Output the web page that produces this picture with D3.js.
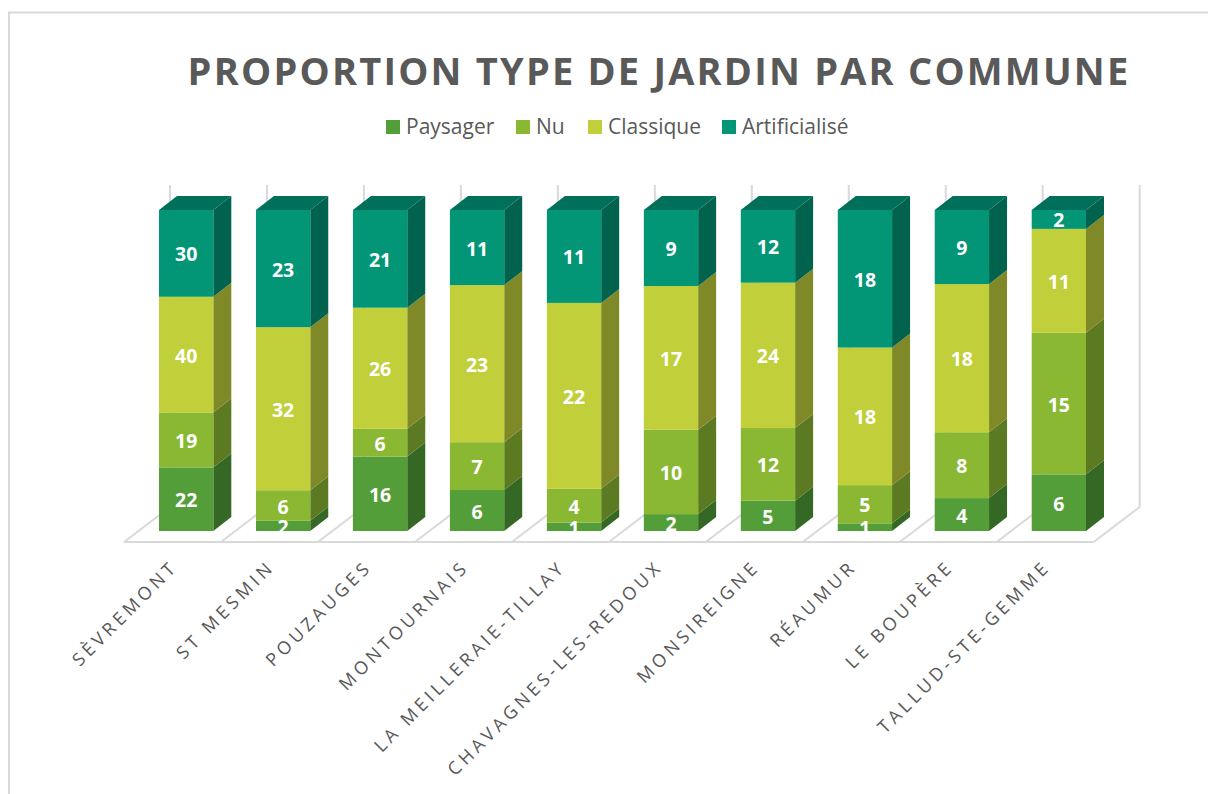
<!DOCTYPE html>
<html>
<head>
<meta charset="utf-8">
<script src="https://cdn.jsdelivr.net/npm/d3@7"></script>
<style>
body { margin: 0; background: #fff; }
text { font-family: "Open Sans", sans-serif; }
</style>
</head>
<body>
<svg id="chart" width="1208" height="794"></svg>
<script>
// chart values
var communes = ["SÈVREMONT", "ST MESMIN", "POUZAUGES", "MONTOURNAIS", "LA MEILLERAIE-TILLAY",
    "CHAVAGNES-LES-REDOUX", "MONSIREIGNE", "RÉAUMUR", "LE BOUPÈRE", "TALLUD-STE-GEMME"];
var paysager = [22, 2, 16, 6, 1, 2, 5, 1, 4, 6];
var nu = [19, 6, 6, 7, 4, 10, 12, 5, 8, 15];
var classique = [40, 32, 26, 23, 22, 17, 24, 18, 18, 11];
var artificialise = [30, 23, 21, 11, 11, 9, 12, 18, 9, 2];
var seriesNames = ["Paysager", "Nu", "Classique", "Artificialisé"];

var colors = ["#549e39", "#8ab833", "#c0cf3a", "#029676"];
var sideColors = ["#356824", "#5b7a22", "#7f8927", "#01634e"];
var topColor = "#01705a";

var svg = d3.select("#chart");

// frame of the chart object
svg.append("path")
    .attr("d", "M9,794V12.5H1208")
    .attr("fill", "none")
    .attr("stroke", "#d9d9d9")
    .attr("stroke-width", 2);

svg.append("text")
    .attr("x", 659)
    .attr("y", 85)
    .attr("text-anchor", "middle")
    .attr("font-size", 38)
    .attr("font-weight", 700)
    .attr("letter-spacing", 2.2)
    .attr("fill", "#595959")
    .text("PROPORTION TYPE DE JARDIN PAR COMMUNE");

// legend
var legendX = [386, 516, 588, 722];
var legend = svg.selectAll(".legend").data(seriesNames).enter().append("g")
    .attr("transform", function(d, i) { return "translate(" + legendX[i] + ",120)"; });
legend.append("rect")
    .attr("width", 14)
    .attr("height", 14)
    .attr("fill", function(d, i) { return colors[i]; });
legend.append("text")
    .attr("x", 20)
    .attr("y", 14)
    .attr("font-size", 21)
    .attr("fill", "#595959")
    .text(function(d) { return d; });

// scales: the front face of each bar, 100% stacked
var depthX = 18, depthY = 14;
var floorX = 46, floorY = 35;
var x = d3.scaleBand().domain(communes).range([159, 1086]).paddingInner(0.44);
var y = d3.scaleLinear().domain([0, 1]).range([531, 210]);

// back wall and floor
var grid = svg.append("g")
    .attr("fill", "none")
    .attr("stroke", "#d9d9d9")
    .attr("stroke-width", 2);
var step = x.step();
d3.range(communes.length + 1).forEach(function(i) {
    var gx = 124 + i * step;
    grid.append("path").attr("d", "M" + gx + ",542L" + (gx + floorX) + "," + (542 - floorY) + "V185");
});
grid.append("path").attr("d", "M124,542H" + (124 + communes.length * step));

var rows = communes.map(function(c, i) {
    return { commune: c, s0: paysager[i], s1: nu[i], s2: classique[i], s3: artificialise[i] };
});
var stacked = d3.stack()
    .keys(["s0", "s1", "s2", "s3"])
    .offset(d3.stackOffsetExpand)(rows);

// bars, drawn from left to right
stacked.forEach(function(layer, s) {
    var g = svg.append("g");

    // right side face
    g.selectAll(".side").data(layer).enter().append("path")
        .attr("fill", sideColors[s])
        .attr("d", function(d) {
            var r = x(d.data.commune) + x.bandwidth();
            return "M" + r + "," + y(d[0]) + "l" + depthX + "," + (-depthY) +
                "V" + (y(d[1]) - depthY) + "l" + (-depthX) + "," + depthY + "Z";
        });

    // front face
    g.selectAll(".front").data(layer).enter().append("rect")
        .attr("x", function(d) { return x(d.data.commune); })
        .attr("y", function(d) { return y(d[1]); })
        .attr("width", x.bandwidth())
        .attr("height", function(d) { return y(d[0]) - y(d[1]); })
        .attr("fill", colors[s]);

    // top face only on the last series
    if (s == stacked.length - 1) {
        g.selectAll(".top").data(layer).enter().append("path")
            .attr("fill", topColor)
            .attr("d", function(d) {
                var l = x(d.data.commune);
                return "M" + l + "," + y(1) + "l" + depthX + "," + (-depthY) +
                    "h" + x.bandwidth() + "l" + (-depthX) + "," + depthY + "Z";
            });
    }
});

// value labels
stacked.forEach(function(layer) {
    svg.append("g").selectAll("text").data(layer).enter().append("text")
        .attr("x", function(d) { return x(d.data.commune) + x.bandwidth() / 2; })
        .attr("y", function(d) { return (y(d[0]) + y(d[1])) / 2 + 8; })
        .attr("text-anchor", "middle")
        .attr("font-size", 19.5)
        .attr("font-weight", 700)
        .attr("fill", "#fff")
        .text(function(d) { return d.data[layer.key]; });
});

// category labels, rotated 45 degrees
svg.append("g").selectAll("text").data(communes).enter().append("text")
    .attr("transform", function(d) {
        return "translate(" + (x(d) + 20) + ",568) rotate(-45)";
    })
    .attr("text-anchor", "end")
    .attr("font-size", 18)
    .attr("letter-spacing", 3.9)
    .attr("fill", "#595959")
    .text(function(d) { return d; });
</script>
</body>
</html>
